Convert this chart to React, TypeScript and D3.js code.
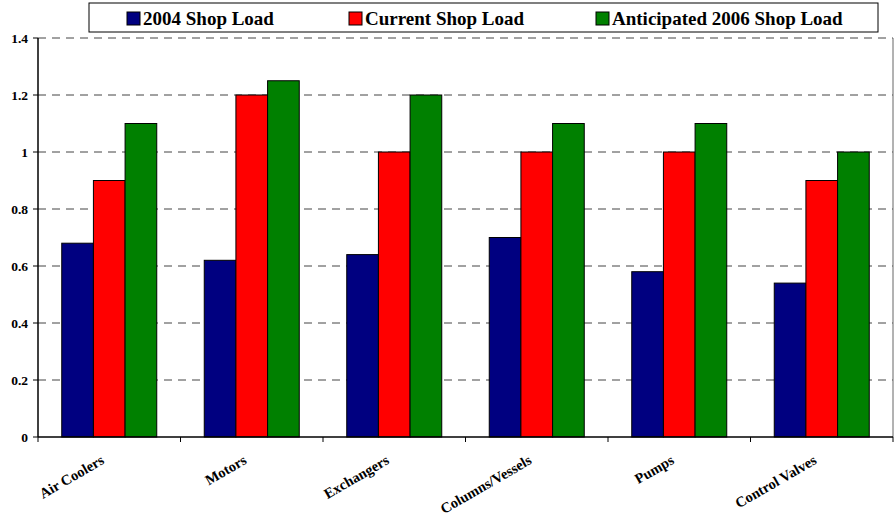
import React from "react";
import * as d3 from "d3";

const categories = ["Air Coolers", "Motors", "Exchangers", "Columns/Vessels", "Pumps", "Control Valves"];
const seriesNames = ["2004 Shop Load", "Current Shop Load", "Anticipated 2006 Shop Load"];
const load2004 = [0.68, 0.62, 0.64, 0.7, 0.58, 0.54];
const loadCurrent = [0.9, 1.2, 1.0, 1.0, 1.0, 0.9];
const load2006 = [1.1, 1.25, 1.2, 1.1, 1.1, 1.0];
const yTicks = [0, 0.2, 0.4, 0.6, 0.8, 1, 1.2, 1.4];
const colors = ["#000080", "#FF0000", "#008000"];

const W = 894, H = 519;
const left = 38, right = 893, top = 38, bottom = 437;
const font = "Liberation Serif, DejaVu Serif, serif";

export default function App() {
  const series = [load2004, loadCurrent, load2006];
  const x = d3.scaleBand<string>().domain(categories).range([left, right]).paddingInner(0).paddingOuter(0);
  const bw = x.bandwidth();
  const barW = bw / 4.5;
  const y = d3.scaleLinear().domain([0, 1.4]).range([bottom, top]);
  const legendX = [127, 349, 596];
  return (
    <svg width={W} height={H} style={{ position: "absolute", left: 0, top: 0, background: "#fff", fontFamily: font }}>
      {yTicks.filter((t) => t > 0).map((t) => (
        <line key={t} x1={left} x2={right} y1={y(t)} y2={y(t)} stroke="#444" strokeDasharray="8,6" strokeWidth={1} />
      ))}
      <line x1={right} x2={right} y1={top} y2={bottom} stroke="#666" strokeWidth={1} />
      {categories.map((c, i) =>
        series.map((s, j) => {
          const x0 = (x(c) as number) + 0.75 * barW + j * barW;
          return (
            <rect key={c + j} x={x0} y={y(s[i])} width={barW} height={y(0) - y(s[i])} fill={colors[j]} stroke="#000" strokeWidth={1} />
          );
        })
      )}
      <line x1={left} x2={left} y1={top} y2={bottom} stroke="#000" strokeWidth={1.5} />
      <line x1={left} x2={right} y1={bottom} y2={bottom} stroke="#000" strokeWidth={1.5} />
      {yTicks.map((t) => (
        <g key={"yt" + t}>
          <line x1={left - 5} x2={left} y1={y(t)} y2={y(t)} stroke="#000" strokeWidth={1} />
          <text x={left - 10} y={y(t)} dy="0.35em" textAnchor="end" style={{ fontFamily: font, fontWeight: 700, fontSize: 13.5 }}>
            {String(t)}
          </text>
        </g>
      ))}
      {d3.range(categories.length + 1).map((k) => {
        const xx = left + k * bw;
        return <line key={"xt" + k} x1={xx} x2={xx} y1={bottom} y2={bottom + 5} stroke="#000" strokeWidth={1} />;
      })}
      {categories.map((c) => {
        const cx = (x(c) as number) + bw / 2 - 4;
        return (
          <text key={"xl" + c} transform={`translate(${cx},${463}) rotate(-30)`} textAnchor="end" style={{ fontFamily: font, fontWeight: 700, fontSize: 14.5 }}>
            {c}
          </text>
        );
      })}
      <rect x={89} y={3} width={789} height={29} fill="#fff" stroke="#000" strokeWidth={1} />
      {seriesNames.map((n, j) => (
        <g key={n}>
          <rect x={legendX[j]} y={12} width={13} height={13} fill={colors[j]} stroke="#000" strokeWidth={1} />
          <text x={legendX[j] + 16} y={25} style={{ fontFamily: font, fontWeight: 700, fontSize: 19 }}>
            {n}
          </text>
        </g>
      ))}
    </svg>
  );
}
